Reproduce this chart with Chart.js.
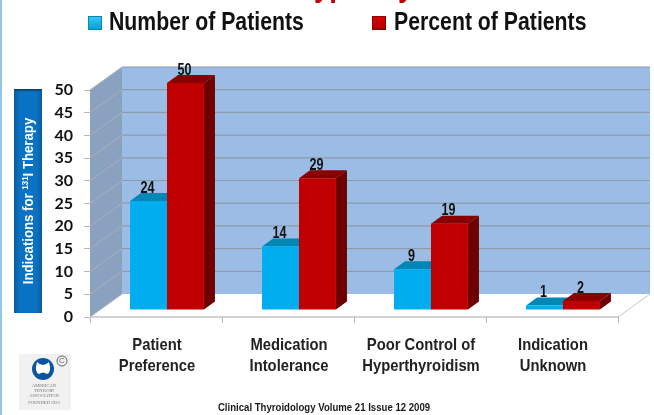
<!DOCTYPE html>
<html>
<head>
<meta charset="utf-8">
<style>
  html, body { margin: 0; padding: 0; background: #fff; }
  #wrap { width: 654px; height: 415px; }
</style>
<script src="https://cdn.jsdelivr.net/npm/chart.js@4"></script>
</head>
<body>
<div id="wrap"><canvas id="myChart" width="654" height="415"></canvas></div>
<script>
const categories = [['Patient', 'Preference'], ['Medication', 'Intolerance'], ['Poor Control of', 'Hyperthyroidism'], ['Indication', 'Unknown']];
const numberOfPatients = [24, 14, 9, 1];
const percentOfPatients = [50, 29, 19, 2];
const seriesNames = ['Number of Patients', 'Percent of Patients'];

const SANS = '"Liberation Sans", sans-serif';

// depth of the fake 3d box and of the bars inside it
const wall = { dx: 32, dy: -23 };
const barShift = { dx: 11, dy: -7 };
const barDepth = { dx: 11, dy: -8 };
const faces = [
  { top: '#0087b5', side: '#006a90' },
  { top: '#8a0000', side: '#6e0000' }
];

function poly(ctx, pts, fill) {
  ctx.beginPath();
  pts.forEach((p, i) => i ? ctx.lineTo(p[0], p[1]) : ctx.moveTo(p[0], p[1]));
  ctx.closePath();
  ctx.fillStyle = fill;
  ctx.fill();
}

function line(ctx, x1, y1, x2, y2, color, w) {
  ctx.beginPath();
  ctx.moveTo(x1, y1);
  ctx.lineTo(x2, y2);
  ctx.strokeStyle = color;
  ctx.lineWidth = w;
  ctx.stroke();
}

// the original type is a squeezed arial, no narrow face is installed
function squeezed(ctx, text, x, y, sx) {
  ctx.save();
  ctx.translate(x, y);
  ctx.scale(sx, 1);
  ctx.fillText(text, 0, 0);
  ctx.restore();
}

const box3d = {
  id: 'box3d',
  beforeDatasetsDraw(chart) {
    const { ctx, chartArea: a, scales: { y } } = chart;
    ctx.save();
    poly(ctx, [[a.left + wall.dx, a.top + wall.dy], [a.right + wall.dx, a.top + wall.dy], [a.right + wall.dx, a.bottom + wall.dy], [a.left + wall.dx, a.bottom + wall.dy]], '#9bbce5');
    poly(ctx, [[a.left, a.top], [a.left + wall.dx, a.top + wall.dy], [a.left + wall.dx, a.bottom + wall.dy], [a.left, a.bottom]], '#8aa2bf');
    y.ticks.forEach(t => {
      const py = y.getPixelForValue(t.value);
      line(ctx, a.left, py, a.left + wall.dx, py + wall.dy, '#a9b0b8', 1);
      if (t.value > 0) line(ctx, a.left + wall.dx, py + wall.dy, a.right + wall.dx, py + wall.dy, '#8e9aaa', 1.2);
    });
    line(ctx, a.left, a.bottom, a.right, a.bottom, '#c4c4c4', 1.5);
    line(ctx, a.right, a.bottom, a.right + wall.dx, a.bottom + wall.dy, '#c4c4c4', 1);

    // tops and sides go under the library's bar fronts
    ctx.translate(barShift.dx, barShift.dy);
    chart.data.datasets.forEach((ds, i) => {
      chart.getDatasetMeta(i).data.forEach(bar => {
        const l = bar.x - bar.width / 2, r = bar.x + bar.width / 2;
        poly(ctx, [[l, bar.y], [l + barDepth.dx, bar.y + barDepth.dy], [r + barDepth.dx, bar.y + barDepth.dy], [r, bar.y]], faces[i].top);
        poly(ctx, [[r, bar.y], [r + barDepth.dx, bar.y + barDepth.dy], [r + barDepth.dx, bar.base + barDepth.dy], [r, bar.base]], faces[i].side);
      });
    });
    ctx.restore();
    ctx.save();
    ctx.translate(barShift.dx, barShift.dy);
  },
  afterDatasetsDraw(chart) {
    const { ctx } = chart;
    ctx.restore();
    // value labels
    ctx.save();
    ctx.font = 'bold 17px ' + SANS;
    ctx.fillStyle = '#111';
    ctx.textAlign = 'center';
    ctx.textBaseline = 'middle';
    chart.data.datasets.forEach((ds, i) => {
      chart.getDatasetMeta(i).data.forEach((bar, k) => {
        squeezed(ctx, ds.data[k], bar.x + barShift.dx - 1, bar.y + barShift.dy - 13, 0.74);
      });
    });
    ctx.restore();
  }
};

const decorations = {
  id: 'decorations',
  afterDraw(chart) {
    const { ctx, scales: { x } } = chart;
    ctx.save();
    // page edge
    ctx.fillStyle = '#8cc6e8';
    ctx.fillRect(0, 0, 2, 415);

    // cropped headline
    ctx.fillStyle = '#c00000';
    ctx.font = 'bold 29px ' + SANS;
    ctx.textAlign = 'left';
    ctx.textBaseline = 'alphabetic';
    squeezed(ctx, 'Hyperthyroidism', 294, -3, 0.95);

    // category labels
    ctx.fillStyle = '#222';
    ctx.font = 'bold 17px ' + SANS;
    ctx.textAlign = 'center';
    ctx.textBaseline = 'middle';
    categories.forEach((lines, i) => {
      lines.forEach((t, k) => squeezed(ctx, t, x.getPixelForTick(i) + 1, 345 + k * 21, 0.87));
    });

    // legend
    const legend = [[88, 109], [372, 394]];
    const colors = [['#3cc8f5', '#009fd8', '#0a86b5'], ['#e00000', '#a80000', '#8e0000']];
    ctx.font = 'bold 25px ' + SANS;
    ctx.textAlign = 'left';
    seriesNames.forEach((name, i) => {
      const g = ctx.createLinearGradient(0, 16, 0, 30);
      g.addColorStop(0, colors[i][0]);
      g.addColorStop(1, colors[i][1]);
      ctx.fillStyle = g;
      ctx.fillRect(legend[i][0], 16, 14, 14);
      ctx.strokeStyle = colors[i][2];
      ctx.lineWidth = 1;
      ctx.strokeRect(legend[i][0] + 0.5, 16.5, 13, 13);
      ctx.fillStyle = '#111';
      squeezed(ctx, name, legend[i][1], 23, 0.85);
    });

    // y axis title box
    const g = ctx.createLinearGradient(14, 0, 42, 0);
    g.addColorStop(0, '#0a5c9c');
    g.addColorStop(0.2, '#0a72c2');
    g.addColorStop(0.8, '#0a72c2');
    g.addColorStop(1, '#0a5c9c');
    ctx.fillStyle = g;
    ctx.fillRect(14, 89, 28, 224);
    ctx.fillStyle = '#0b4a78';
    ctx.fillRect(14, 89, 28, 2);
    ctx.translate(28, 201);
    ctx.rotate(-Math.PI / 2);
    ctx.scale(0.88, 1);
    ctx.fillStyle = '#fff';
    const parts = [['Indications for ', 15, 0], ['131', 9, -5], ['I Therapy', 15, 0]];
    let total = 0;
    parts.forEach(p => { ctx.font = 'bold ' + p[1] + 'px ' + SANS; total += ctx.measureText(p[0]).width; });
    let tx = -total / 2;
    ctx.textAlign = 'left';
    ctx.textBaseline = 'alphabetic';
    parts.forEach(p => {
      ctx.font = 'bold ' + p[1] + 'px ' + SANS;
      ctx.fillText(p[0], tx, 5 + p[2]);
      tx += ctx.measureText(p[0]).width;
    });
    ctx.setTransform(1, 0, 0, 1, 0, 0);

    // logo
    ctx.fillStyle = '#f1f1f1';
    ctx.fillRect(19, 354, 52, 56);
    ctx.fillStyle = '#0b55a0';
    ctx.beginPath();
    ctx.ellipse(43, 369, 11, 11, 0, 0, Math.PI * 2);
    ctx.fill();
    ctx.fillStyle = '#fff';
    ctx.beginPath();
    ctx.moveTo(37, 362);
    ctx.quadraticCurveTo(43, 368, 49, 362);
    ctx.quadraticCurveTo(52, 372, 47, 374);
    ctx.quadraticCurveTo(43, 371, 39, 374);
    ctx.quadraticCurveTo(34, 372, 37, 362);
    ctx.fill();
    ctx.strokeStyle = '#666';
    ctx.lineWidth = 1;
    ctx.beginPath();
    ctx.arc(62, 361, 5, 0, Math.PI * 2);
    ctx.stroke();
    ctx.fillStyle = '#666';
    ctx.textAlign = 'center';
    ctx.textBaseline = 'middle';
    ctx.font = '8px ' + SANS;
    ctx.fillText('C', 62, 361);
    ctx.fillStyle = '#777';
    ctx.font = '4.5px "Liberation Serif", serif';
    ['AMERICAN', 'THYROID', 'ASSOCIATION'].forEach((t, i) => ctx.fillText(t, 44, 386 + i * 5));
    ctx.fillText('FOUNDED 1923', 44, 403);

    // source line
    ctx.fillStyle = '#1a1a1a';
    ctx.textBaseline = 'middle';
    ctx.font = 'bold 10px ' + SANS;
    squeezed(ctx, 'Clinical Thyroidology Volume 21 Issue 12 2009', 324, 408, 0.96);
    ctx.restore();
  }
};

document.addEventListener('DOMContentLoaded', function() {
  new Chart(document.getElementById('myChart'), {
    type: 'bar',
    data: {
      labels: categories,
      datasets: [
        { label: seriesNames[0], data: numberOfPatients, backgroundColor: '#00aeef' },
        { label: seriesNames[1], data: percentOfPatients, backgroundColor: '#c00000' }
      ]
    },
    options: {
      responsive: false,
      animation: false,
      layout: { padding: { top: 90, right: 36, left: 0, bottom: 0 } },
      datasets: { bar: { categoryPercentage: 0.56, barPercentage: 1 } },
      plugins: { legend: { display: false }, title: { display: false }, tooltip: { enabled: false } },
      scales: {
        x: {
          afterFit(scale) { scale.height = 98; },
          border: { display: false },
          grid: { drawOnChartArea: false, tickLength: 6, color: '#b8b8b8' },
          ticks: { display: false }
        },
        y: {
          min: 0,
          max: 50,
          afterFit(scale) { scale.width = 90; },
          border: { display: false },
          grid: { drawOnChartArea: false, tickLength: 6, color: '#b8b8b8' },
          ticks: {
            stepSize: 5,
            autoSkip: false,
            color: '#111',
            padding: 11,
            font: { family: 'Lato', size: 16, weight: 'bold' }
          }
        }
      }
    },
    plugins: [box3d, decorations]
  });
});
</script>
</body>
</html>
